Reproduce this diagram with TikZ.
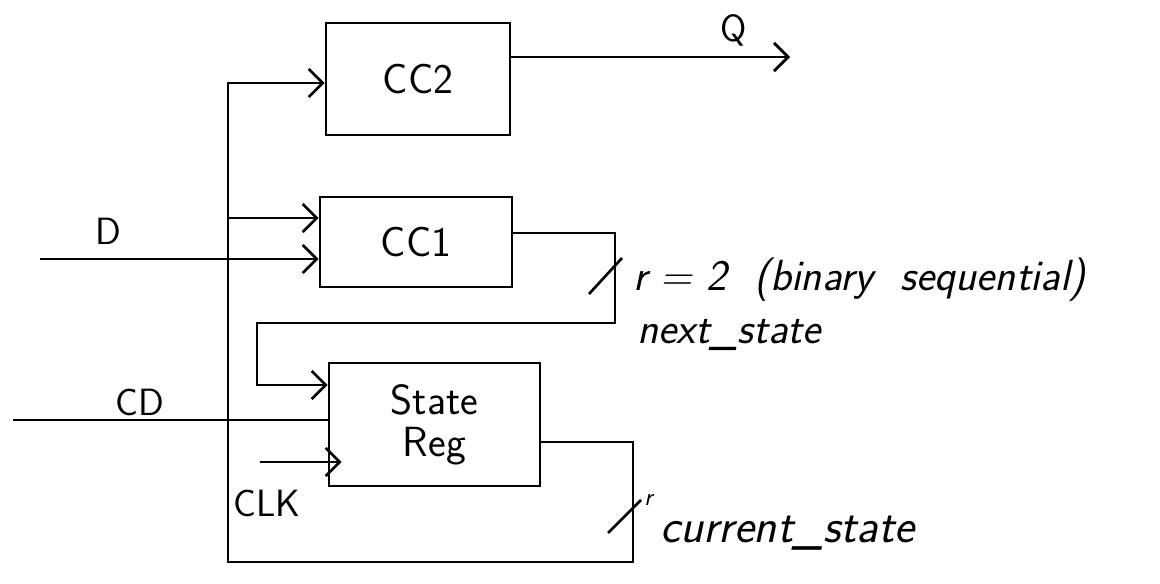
\documentclass[tikz,border=0pt]{standalone}
\usepackage{tikz}
\usetikzlibrary{arrows.meta,calc}

\begin{document}
\begin{tikzpicture}[
    x=0.025cm, y=-0.025cm,
    block/.style={
        rectangle,
        draw=black,
        line width=1.9pt,
        inner sep=0pt,
        align=center,
        font=\sffamily\fontsize{30}{30}\selectfont
    },
    wire/.style={line width=1.9pt},
    sig/.style={
        wire,
        -{Straight Barb[length=10pt,width=20pt,line width=1.9pt]}
    },
    tag/.style={font=\sffamily\fontsize{27}{30}\selectfont},
    note/.style={
        font=\sffamily\itshape\fontsize{31}{34}\selectfont,
        inner sep=0pt,
        anchor=west
    }
]
    \useasboundingbox (0,0) rectangle (1160,584);

    % --- BLOCKS ---
    \node [block, minimum width=4.6cm, minimum height=2.8cm] (cc2) at (418,79) {CC2};
    \node [block, minimum width=4.8cm, minimum height=2.25cm] (cc1) at (416,242) {CC1};
    \node [block, minimum width=5.275cm, minimum height=3.075cm] (reg) at (434.5,424.5) {State\\Reg};

    % --- INPUTS ---
    \coordinate (dIn) at (40,259);
    \coordinate (cdIn) at (13,420);
    \coordinate (clkIn) at (260,462);
    \node [tag] (dLbl) at (108,231) {D};
    \node [tag] (cdLbl) at (140,402) {CD};
    \node [tag] (clkLbl) at (267,503) {CLK};

    \draw [sig] (dIn) -- (dIn -| cc1.west);
    \draw [wire] (cdIn) -- (cdIn -| reg.west);
    \draw [sig] (clkIn) -- ($(clkIn -| reg.west)+(14,0)$);

    % --- OUTPUT Q ---
    \coordinate (qOut) at (790,57);
    \node [tag] (qLbl) at (734,30) {Q};
    \draw [sig] (cc2.east |- qOut) -- (qOut);

    % --- NEXT STATE ---
    \coordinate (ns1) at (615,233);
    \coordinate (ns2) at (615,323);
    \coordinate (ns3) at (257,323);
    \coordinate (nsIn) at (257,385);
    \draw [sig] (cc1.east |- ns1) -- (ns1) -- (ns2) -- (ns3) -- (nsIn) -- (nsIn -| reg.west);

    % --- CURRENT STATE (feedback bus) ---
    \coordinate (cs1) at (633,442);
    \coordinate (cs2) at (633,562);
    \coordinate (cs3) at (228,562);
    \coordinate (busTop) at (228,83);
    \coordinate (busMid) at (228,218);
    \draw [sig] (reg.east |- cs1) -- (cs1) -- (cs2) -- (cs3) -- (busTop) -- (busTop -| cc2.west);
    \draw [sig] (busMid) -- (busMid -| cc1.west);

    % --- WIDTH MARKS ---
    \coordinate (nsCut) at (615,266);
    \coordinate (csCut) at (633,508);
    \draw [wire] ($(nsCut)+(-26,28)$) -- ($(nsCut)+(7,-8)$);
    \draw [wire] ($(csCut)+(-25,25)$) -- ($(csCut)+(8,-8)$);

    \node [note] (nsWidth) at (633,280) {r = 2 \ (binary \ sequential)};
    \node [note] (nsLbl) at (637,335) {next\_state};
    \node [note, font=\sffamily\itshape\fontsize{18}{20}\selectfont] (csWidth) at (644,500) {r};
    \node [note, font=\sffamily\itshape\fontsize{34}{36}\selectfont] (csLbl) at (660,533) {current\_state};

\end{tikzpicture}
\end{document}
